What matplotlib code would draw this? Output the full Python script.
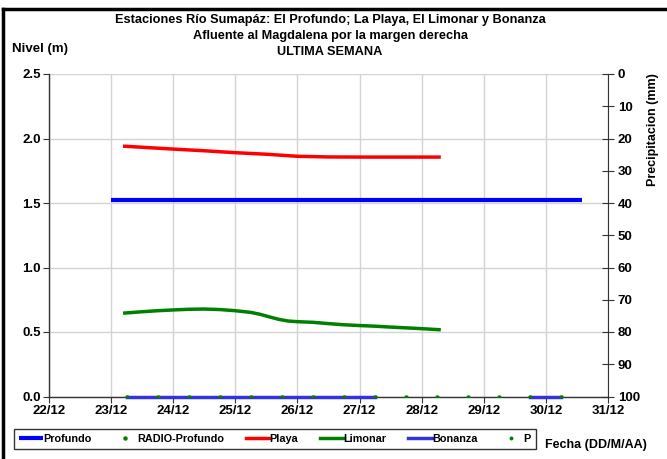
import matplotlib
matplotlib.use("Agg")
import matplotlib.pyplot as plt
from matplotlib.lines import Line2D
import numpy as np

plt.rcParams['font.family'] = ['Liberation Sans', 'DejaVu Sans']
plt.rcParams['font.weight'] = 'bold'

# x values are day-of-December (22 = 22/12)
tick_days = [22, 23, 24, 25, 26, 27, 28, 29, 30, 31]
tick_labels = ["22/12", "23/12", "24/12", "25/12", "26/12", "27/12", "28/12", "29/12", "30/12", "31/12"]

profundo_x = [23.0, 30.58]
profundo_y = [1.523, 1.523]

playa_x = [23.22, 23.75, 24.0, 24.5, 25.0, 25.5, 26.0, 26.5, 27.0, 27.5, 28.0, 28.28]
playa_y = [1.94, 1.925, 1.918, 1.905, 1.89, 1.878, 1.862, 1.857, 1.856, 1.856, 1.856, 1.856]

limonar_x = [23.22, 23.5, 23.75, 24.0, 24.25, 24.5, 24.75, 25.0, 25.25, 25.4, 25.55, 25.7, 25.85, 26.0, 26.25, 26.5, 26.75, 27.0, 27.25, 27.5, 27.75, 28.0, 28.28]
limonar_y = [0.647, 0.657, 0.665, 0.671, 0.676, 0.678, 0.674, 0.665, 0.652, 0.637, 0.617, 0.598, 0.585, 0.580, 0.575, 0.565, 0.556, 0.550, 0.545, 0.538, 0.532, 0.526, 0.518]

radio_x = [23.25, 23.75, 24.25, 24.75, 25.25, 25.75, 26.25, 26.75, 27.25, 27.75, 28.25, 28.75, 29.25, 29.75, 30.25]
radio_y = [0.0] * 15

bonanza_x1 = [23.25, 27.25]
bonanza_y1 = [0.0, 0.0]
bonanza_x2 = [29.75, 30.25]
bonanza_y2 = [0.0, 0.0]

W, H = 667, 459
fig = plt.figure(figsize=(W / 100, H / 100), dpi=100)
ax = fig.add_axes([49 / W, 1 - 396.5 / H, (608 - 49) / W, (396.5 - 74) / H])

grid_c = '#d4d4d4'
ax.set_xlim(22, 31)
ax.set_ylim(0, 2.5)
ax.set_xticks(tick_days)
ax.set_xticklabels(tick_labels)
ax.set_yticks([0, 0.5, 1.0, 1.5, 2.0, 2.5])
ax.set_yticklabels(["0.0", "0.5", "1.0", "1.5", "2.0", "2.5"])
ax.grid(True, color=grid_c, lw=1.0)
ax.set_axisbelow(True)
for s in ['top', 'right']:
    ax.spines[s].set_visible(False)
for s in ['left', 'bottom']:
    ax.spines[s].set_color('#333333')
    ax.spines[s].set_linewidth(1.0)
ax.tick_params(axis='both', labelsize=9.5, length=4, width=0.8, color='#333333', pad=2)
for t in ax.get_xticklabels() + ax.get_yticklabels():
    t.set_fontweight('bold')

ax.plot(profundo_x, profundo_y, color='#0000FF', lw=3, solid_capstyle='butt', label='Profundo', zorder=3)
ax.plot(radio_x, radio_y, ls='none', marker='o', ms=2.2, color='#008000', label='RADIO-Profundo', zorder=5)
ax.plot(playa_x, playa_y, color='#FF0000', lw=2.5, label='Playa', zorder=3)
ax.plot(limonar_x, limonar_y, color='#008000', lw=2.5, label='Limonar', zorder=3)
ax.plot(bonanza_x1, bonanza_y1, color='#3333DD', lw=2.5, label='Bonanza', zorder=4, clip_on=False)
ax.plot(bonanza_x2, bonanza_y2, color='#3333DD', lw=2.5, zorder=4, clip_on=False)
ax.plot([], [], ls='none', marker='o', ms=1.8, color='#008000', label='P')

ax2 = ax.twinx()
ax2.set_ylim(100, 0)
ax2.set_yticks(range(0, 101, 10))
for s in ['top', 'left', 'bottom']:
    ax2.spines[s].set_visible(False)
ax2.spines['right'].set_color('#333333')
ax2.tick_params(axis='y', direction='inout', length=8, width=0.8, color='#333333', labelsize=9.5, pad=3)
for t in ax2.get_yticklabels():
    t.set_fontweight('bold')

# Titles
fig.text(0.495, 1 - 20 / H, "Estaciones Río Sumapáz: El Profundo; La Playa, El Limonar y Bonanza",
         ha='center', va='center', fontsize=9.2, fontweight='bold')
fig.text(0.495, 1 - 36 / H, "Afluente al Magdalena por la margen derecha",
         ha='center', va='center', fontsize=9.2, fontweight='bold')
fig.text(0.495, 1 - 52 / H, "ULTIMA SEMANA",
         ha='center', va='center', fontsize=9.2, fontweight='bold')
fig.text(12 / W, 1 - 49 / H, "Nivel (m)", ha='left', va='center', fontsize=9.5, fontweight='bold')
fig.text(653 / W, 1 - 130 / H, "Precipitacion (mm)", ha='center', va='center', rotation=90,
         fontsize=9, fontweight='bold')
fig.text(545 / W, 1 - 445 / H, "Fecha (DD/M/AA)", ha='left', va='center', fontsize=9, fontweight='bold')

# Legend
h1, l1 = ax.get_legend_handles_labels()
leg = fig.legend(h1, l1, loc='center left', bbox_to_anchor=(14 / W, 1 - 439 / H), ncol=6,
                 fontsize=7.8, frameon=True, fancybox=False, edgecolor='black', handlelength=2.2,
                 handletextpad=0.0, columnspacing=2.0, borderpad=0.5, borderaxespad=0)
leg.get_frame().set_linewidth(1.0)
for t in leg.get_texts():
    t.set_fontweight('bold')

# Outer border lines
fig.add_artist(Line2D([3 / W, 1], [1 - 9 / H, 1 - 9 / H], transform=fig.transFigure, color='black', lw=2.5))
fig.add_artist(Line2D([3 / W, 3 / W], [0, 1 - 9 / H], transform=fig.transFigure, color='black', lw=2.5))

fig.savefig("out.png", dpi=100)
